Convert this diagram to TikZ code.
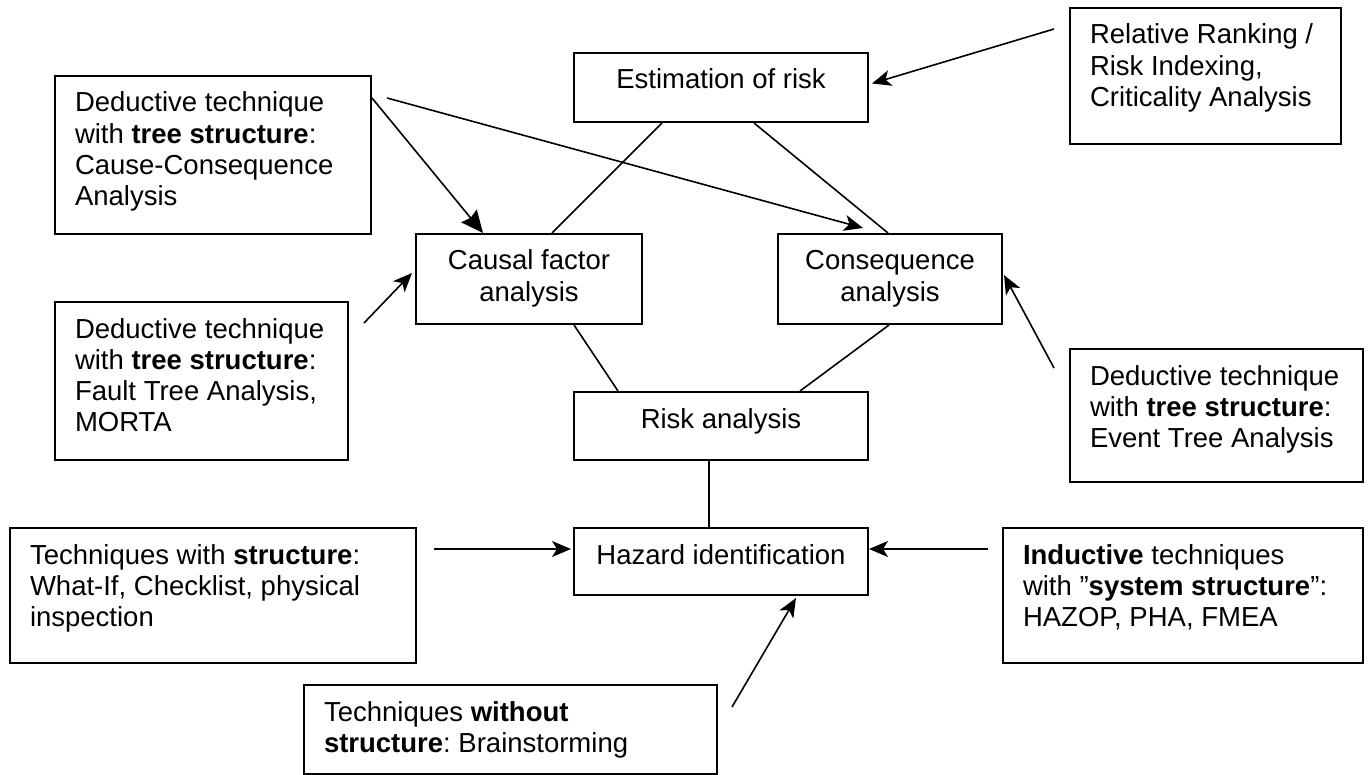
\documentclass[tikz,border=0pt]{standalone}
\usepackage{fontspec}
\setmainfont{Liberation Sans}
\usetikzlibrary{arrows.meta,calc}
\frenchspacing

% one drawing unit = one pixel of the layout grid
\newlength\px
\setlength\px{0.5pt}

% text box body: width, height (in px), alignment, text
\newcommand\boxbody[4]{%
  \parbox[t][#2\px][t]{#1\px}{#3\rule{0pt}{36\px}#4}}
\newcommand\lefttext{\raggedright\leftskip=20\px\relax}

\tikzset{
  tb/.style={draw, line width=1pt, inner sep=0pt, anchor=north west},
  conn/.style={line width=0.8pt},
  arr/.style={conn, -{Stealth[length=9.5pt, width=8pt, inset=2.5pt]}},
  bigarr/.style={conn, -{Stealth[length=11pt, width=10pt, inset=1.2pt]}},
}

\begin{document}
\begin{tikzpicture}[x=0.5pt, y=-0.5pt,
  every node/.style={font=\fontsize{13.75}{15.65}\selectfont}]
  \fill[white] (0,0) rectangle (1369,775);
  \useasboundingbox (0,0) rectangle (1369,775);

  % central chain
  \node[tb] (est)    at (573,52)  {\boxbody{294}{69}{\centering}{Estimation of risk}};
  \node[tb] (causal) at (415,233) {\boxbody{226}{90}{\centering}{Causal factor\\analysis}};
  \node[tb] (conseq) at (777,233) {\boxbody{224}{90}{\centering}{Consequence\\analysis}};
  \node[tb] (risk)   at (573,391) {\boxbody{294}{68}{\centering}{Risk analysis}};
  \node[tb] (hazard) at (573,527) {\boxbody{294}{67}{\centering}{Hazard identification}};

  % technique boxes
  \node[tb] (rel) at (1069,7) {\boxbody{271}{136}{\lefttext}{Relative Ranking /\\Risk Indexing,\\Criticality Analysis}};
  \node[tb] (cca) at (54,75) {\boxbody{316}{158}{\lefttext}{Deductive technique\\with \textbf{tree structure}:\\Cause-Consequence\\Analysis}};
  \node[tb] (fta) at (54,301) {\boxbody{293}{158}{\lefttext}{Deductive technique\\with \textbf{tree structure}:\\Fault Tree Analysis,\\MORTA}};
  \node[tb] (event) at (1069,348) {\boxbody{293}{133}{\lefttext}{Deductive technique\\with \textbf{tree structure}:\\Event Tree Analysis}};
  \node[tb] (struct) at (9,527) {\boxbody{406}{135}{\lefttext}{Techniques with \textbf{structure}:\\What-If, Checklist, physical\\inspection}};
  \node[tb] (induct) at (1002,527) {\boxbody{360}{135}{\lefttext}{\textbf{Inductive} techniques\\with ”\textbf{system structure}”:\\HAZOP, PHA, FMEA}};
  \node[tb] (without) at (303,684) {\boxbody{413}{89}{\lefttext}{Techniques \textbf{without}\\\textbf{structure}: Brainstorming}};

  % free ends of the arrows
  \coordinate (ccaout)     at ($(cca.north east)+(15,23)$);
  \coordinate (ftaout)     at ($(fta.north east)+(15,22)$);
  \coordinate (relout)     at ($(rel.north west)+(-15,22)$);
  \coordinate (eventout)   at ($(event.north west)+(-15,20)$);
  \coordinate (structout)  at ($(struct.north east)+(17,22)$);
  \coordinate (inductout)  at ($(induct.north west)+(-14,22)$);
  \coordinate (withoutout) at ($(without.north east)+(14,23)$);

  % plain links between the stages
  \draw[conn] ($(est.south west)+(89,0)$)     -- ($(causal.north west)+(137,0)$);
  \draw[conn] ($(est.south west)+(181,0)$)    -- ($(conseq.north west)+(111,0)$);
  \draw[conn] ($(causal.south west)+(159,0)$) -- ($(risk.north west)+(45,0)$);
  \draw[conn] ($(conseq.south west)+(112,0)$) -- ($(risk.north west)+(227,0)$);
  \draw[conn] ($(risk.south west)+(136,0)$)   -- ($(hazard.north west)+(136,0)$);

  % arrows from the techniques
  \draw[bigarr] ($(cca.north east)+(0,23)$) -- ($(causal.north west)+(68,0)$);
  \draw[arr] (ccaout)     -- ($(conseq.north west)+(86,-5)$);
  \draw[arr] (ftaout)     -- ($(causal.north west)+(-3,40)$);
  \draw[arr] (relout)     -- ($(est.east)+(3,-4)$);
  \draw[arr] (eventout)   -- ($(conseq.north east)+(1,42)$);
  \draw[arr] (structout)  -- ($(hazard.north west)+(-2,22)$);
  \draw[arr] (inductout)  -- ($(hazard.north east)+(0,22)$);
  \draw[arr] (withoutout) -- ($(hazard.south west)+(223,2)$);
\end{tikzpicture}
\end{document}
